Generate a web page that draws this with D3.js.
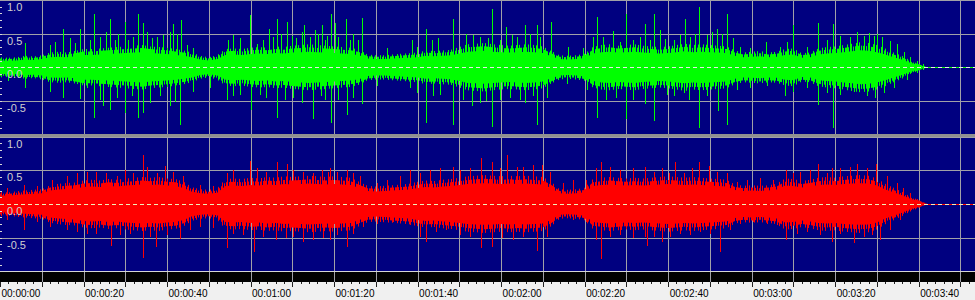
<!DOCTYPE html>
<html>
<head>
<meta charset="utf-8">
<script src="https://cdn.jsdelivr.net/npm/d3@7"></script>
<style>
body { margin: 0; background: #f0f0f0; }
svg { display: block; }
</style>
</head>
<body>
<svg></svg>
<script>
var width = 975
var height = 300

// envelope of each channel (outer edge of the dense part), one value every 2 seconds (0..222 s)
var envStep = 2
var greenEnv = [0.15,0.14,0.15,0.17,0.16,0.18,0.22,0.23,0.22,0.24,
    0.27,0.27,0.28,0.29,0.30,0.31,0.32,0.33,0.31,0.30,
    0.29,0.27,0.25,0.22,0.17,0.15,0.18,0.27,0.28,0.27,
    0.29,0.30,0.29,0.31,0.30,0.32,0.33,0.34,0.33,0.32,
    0.31,0.30,0.29,0.26,0.19,0.18,0.18,0.19,0.20,0.21,
    0.22,0.25,0.24,0.25,0.26,0.30,0.34,0.35,0.36,0.34,
    0.33,0.32,0.33,0.34,0.33,0.31,0.24,0.18,0.17,0.18,
    0.20,0.30,0.33,0.34,0.32,0.33,0.34,0.32,0.31,0.30,
    0.31,0.33,0.35,0.33,0.34,0.33,0.32,0.31,0.25,0.22,
    0.23,0.24,0.22,0.23,0.27,0.28,0.21,0.22,0.28,0.30,
    0.31,0.33,0.35,0.37,0.36,0.33,0.28,0.22,0.17,0.10,
    0.05,0.00]
var redEnv = [0.18,0.17,0.19,0.20,0.21,0.22,0.28,0.30,0.31,0.32,
    0.35,0.36,0.35,0.37,0.36,0.38,0.39,0.40,0.39,0.40,
    0.38,0.37,0.33,0.25,0.22,0.21,0.23,0.37,0.38,0.37,
    0.39,0.38,0.40,0.39,0.41,0.40,0.41,0.42,0.41,0.40,
    0.41,0.40,0.39,0.33,0.27,0.26,0.27,0.28,0.29,0.30,
    0.33,0.35,0.34,0.36,0.37,0.39,0.41,0.42,0.43,0.42,
    0.41,0.42,0.41,0.42,0.41,0.40,0.33,0.22,0.21,0.22,
    0.24,0.37,0.39,0.40,0.39,0.38,0.39,0.38,0.39,0.40,
    0.41,0.40,0.39,0.40,0.39,0.38,0.37,0.36,0.29,0.27,
    0.28,0.27,0.28,0.30,0.38,0.37,0.34,0.36,0.39,0.40,
    0.39,0.41,0.42,0.43,0.42,0.38,0.30,0.24,0.18,0.11,
    0.06,0.00]

// peaks sticking out of the envelope: [seconds, amplitude]
var greenUp = [[6,0.36],[12,0.33],[13.2,0.38],[15.2,0.57],[16.8,0.43],[18,0.36],[19.2,0.57],[21.5,0.40],[22.6,0.79],[24,0.45],
    [25.5,0.52],[26.3,0.71],[27.5,0.40],[28.3,0.50],[29.9,0.67],[30.7,0.40],[31.9,0.45],[33,0.79],[34.2,0.65],[35.1,0.52],
    [36.3,0.43],[37.5,0.45],[39.1,0.48],[40.7,0.52],[41.5,0.64],[42.3,0.50],[43.3,0.70],[44.7,0.33],[46.3,0.28],[54.7,0.40],
    [55.9,0.48],[57.5,0.43],[59.9,0.77],[61.5,0.35],[63,0.40],[64.5,0.57],[65.4,0.45],[66.4,0.71],[67.4,0.50],[68.8,0.67],
    [70,0.46],[71,0.43],[72.2,0.52],[72.8,0.62],[74.2,0.45],[75.4,0.55],[76.2,0.50],[77,0.62],[77.8,0.40],[78.3,0.46],
    [79.2,0.79],[80.2,0.65],[81,0.45],[82.8,0.71],[83.8,0.40],[84.6,0.50],[85.8,0.41],[86.6,0.73],[92.6,0.28],[98.6,0.40],
    [99.8,0.30],[102,0.57],[103.5,0.40],[105,0.43],[108.5,0.72],[111.7,0.50],[113.3,0.48],[114.9,0.45],[116.9,0.43],[117.9,0.87],
    [119.7,0.40],[121.1,0.60],[122.5,0.48],[123.7,0.45],[125.7,0.62],[126.9,0.50],[128.6,0.62],[129.3,0.45],[131.9,0.67],[136,0.30],
    [139.7,0.28],[142,0.45],[143,0.75],[144.4,0.45],[146.7,0.54],[148.4,0.38],[149.9,0.79],[151.6,0.40],[153.2,0.45],[154.4,0.64],
    [155.7,0.40],[156.7,0.79],[158.1,0.55],[159.3,0.42],[161.3,0.40],[162.9,0.48],[164.1,0.72],[165.3,0.45],[166.5,0.50],[167.5,0.89],
    [169.3,0.48],[170.5,0.52],[171.6,0.57],[172.9,0.50],[174.2,0.79],[175.5,0.43],[177.2,0.30],[179.6,0.28],[183.4,0.38],[186.8,0.30],
    [188.4,0.38],[189.9,0.62],[193.2,0.30],[196,0.65],[198,0.40],[199.4,0.64],[201.2,0.47],[203.6,0.45],[205.2,0.52],[206.8,0.47],
    [208,0.51],[209.2,0.47],[210,0.49],[211.2,0.45],[213.2,0.39],[214.9,0.35],[216.4,0.23],[217.9,0.16],[219.5,0.10],[221,0.05]]
var greenDown = [[2,-0.21],[6,-0.31],[12,-0.36],[15.2,-0.46],[19.2,-0.47],[20.8,-0.31],[22.6,-0.75],[23.9,-0.48],[24.6,-0.58],[26.3,-0.63],
    [27.9,-0.45],[29.9,-0.68],[31.5,-0.43],[33.1,-0.75],[34.3,-0.68],[35.9,-0.53],[38.3,-0.43],[40.7,-0.58],[41.9,-0.51],[43.1,-0.86],
    [46.3,-0.36],[50.3,-0.31],[54.3,-0.48],[55.9,-0.43],[57.5,-0.41],[60,-0.63],[62.2,-0.41],[63.8,-0.46],[66.4,-0.75],[68.2,-0.48],
    [70.2,-0.46],[72.2,-0.53],[75,-0.76],[76.8,-0.43],[77.8,-0.48],[79.2,-0.82],[81,-0.48],[83,-0.70],[84.6,-0.46],[86.6,-0.54],
    [90.2,-0.28],[98.2,-0.31],[99.8,-0.38],[102,-0.82],[103.7,-0.43],[105.3,-0.41],[108.5,-0.85],[110.9,-0.48],[113,-0.58],[114.9,-0.53],
    [116.5,-0.50],[117.9,-0.89],[119.7,-0.48],[122.1,-0.46],[124.5,-0.48],[125.7,-0.53],[127.7,-0.43],[128.6,-0.86],[130.9,-0.46],[135.7,-0.24],
    [140.5,-0.33],[143,-0.75],[145.2,-0.48],[147.6,-0.46],[149.9,-0.77],[151.6,-0.48],[154.4,-0.55],[156.7,-0.80],[159.7,-0.41],[161.3,-0.43],
    [163.7,-0.38],[165.1,-0.48],[167.5,-0.90],[169.3,-0.43],[171.9,-0.65],[174.2,-0.86],[176.4,-0.33],[179.6,-0.31],[183.6,-0.28],[188,-0.43],
    [190,-0.36],[193.2,-0.31],[196,-0.56],[198,-0.38],[199.4,-0.90],[201.2,-0.41],[204.4,-0.36],[207.6,-0.43],[209.6,-0.46],[211.6,-0.38],
    [214,-0.31],[217.2,-0.19],[219.5,-0.09],[221,-0.04]]
var redUp = [[1.6,0.23],[5.7,0.28],[8.8,0.26],[12.4,0.36],[16,0.41],[18.4,0.46],[20.8,0.48],[23.1,0.48],[25.5,0.46],[27.9,0.41],
    [29.9,0.50],[31.9,0.46],[34.2,0.73],[35.1,0.55],[37.5,0.46],[39.5,0.56],[41.5,0.48],[43.9,0.41],[47.9,0.28],[51.1,0.26],
    [54.3,0.46],[55.9,0.50],[59.9,0.64],[61.5,0.53],[63.8,0.48],[66.4,0.62],[68.8,0.60],[70.2,0.50],[72.6,0.48],[75,0.46],
    [77,0.50],[78.6,0.48],[79,0.53],[80.6,0.48],[83,0.50],[84.6,0.46],[86.2,0.41],[90.2,0.31],[92.6,0.36],[95.8,0.41],
    [98.1,0.50],[100.5,0.46],[102.9,0.50],[105.3,0.53],[108.5,0.55],[110.1,0.50],[112.5,0.53],[115.3,0.68],[117.9,0.62],[119.7,0.53],
    [121.3,0.72],[123.7,0.55],[125.3,0.55],[127.7,0.58],[129.7,0.58],[131.7,0.48],[134.9,0.31],[137.3,0.36],[140.4,0.36],[142.8,0.53],
    [144,0.63],[146,0.55],[148.4,0.50],[151.6,0.53],[154.4,0.55],[156.5,0.48],[158.5,0.53],[160.1,0.46],[161.7,0.63],[163.7,0.46],
    [165.7,0.53],[167.5,0.63],[169.7,0.56],[171.7,0.48],[174.1,0.46],[176.4,0.33],[178.8,0.36],[182,0.38],[185.2,0.36],[188.2,0.50],
    [190,0.46],[191.6,0.48],[194,0.50],[196,0.60],[198,0.46],[199.2,0.53],[201.2,0.53],[203.6,0.55],[205.3,0.59],[207.6,0.53],
    [209.8,0.60],[212.4,0.41],[214.8,0.31],[216.3,0.23],[217.9,0.16],[219.5,0.08]]
var redDown = [[1.6,-0.24],[5.7,-0.39],[8.8,-0.26],[12,-0.34],[16,-0.39],[18.4,-0.41],[20.8,-0.44],[23.1,-0.44],[26.7,-0.63],[28.7,-0.46],
    [31.1,-0.44],[34.2,-0.80],[35.9,-0.49],[37.4,-0.64],[39.9,-0.46],[43.1,-0.52],[45.5,-0.39],[47.9,-0.34],[51.1,-0.36],[54.3,-0.66],
    [55.9,-0.44],[58.3,-0.46],[60.8,-0.71],[63,-0.49],[66.1,-0.53],[68.6,-0.51],[70.2,-0.49],[72.6,-0.56],[75,-0.53],[77.4,-0.51],
    [79,-0.53],[80.6,-0.46],[83,-0.64],[84.6,-0.44],[87,-0.34],[90.2,-0.29],[94.2,-0.26],[98.1,-0.31],[100.5,-0.49],[102.1,-0.56],
    [104.5,-0.41],[106.9,-0.39],[110.1,-0.46],[112.5,-0.49],[115.3,-0.66],[117.9,-0.64],[120.1,-0.51],[122.9,-0.53],[125.3,-0.49],[128.6,-0.69],
    [130.9,-0.49],[133.3,-0.21],[137.3,-0.24],[140.4,-0.26],[142.8,-0.53],[144,-0.81],[146,-0.49],[148.4,-0.46],[151.6,-0.51],[154.4,-0.49],
    [154.9,-0.63],[156.5,-0.49],[158.5,-0.56],[160.5,-0.49],[162.9,-0.44],[165.3,-0.46],[167.7,-0.41],[170.1,-0.44],[172.5,-0.71],[174.8,-0.39],
    [177.2,-0.29],[180.4,-0.26],[183.6,-0.29],[186,-0.31],[188.2,-0.53],[190.8,-0.44],[193.2,-0.41],[196.4,-0.46],[199.2,-0.56],[201.2,-0.44],
    [204.4,-0.58],[206.8,-0.49],[208.8,-0.46],[210.8,-0.53],[213.2,-0.39],[215.6,-0.24],[218,-0.09],[219.5,-0.04]]

var ampTicks = [1.0, 0.5, 0.0, -0.5]
var ampLabels = ["1.0", "0.5", "0.0", "-0.5"]
var timeTicks = [0, 20, 40, 60, 80, 100, 120, 140, 160, 180, 200, 220]
var timeLabels = ["00:00:00","00:00:20","00:00:40","00:01:00","00:01:20","00:01:40",
    "00:02:00","00:02:20","00:02:40","00:03:00","00:03:20","00:03:40"]

var x = d3.scaleLinear().domain([0, 220]).range([0, 918.7])
var yTop = d3.scaleLinear().domain([-1, 1]).range([134.8, -0.2])
var yBot = d3.scaleLinear().domain([-1, 1]).range([271.4, 136.6])
var endT = 222
var gridColor = "#a0a0a8"

const svg = d3.select("svg")
    .attr("width", width)
    .attr("height", height)
    .attr("viewBox", [0, 0, width, height])
    .style("font-family", "'Liberation Sans', Arial, sans-serif")

svg.append("rect").attr("width", width).attr("height", height).attr("fill", "#f0f0f0")

// stripe patterns give the ragged edge of the waveform body
const defs = svg.append("defs")
function stripes(id, color, period, bars) {
    const p = defs.append("pattern")
        .attr("id", id)
        .attr("patternUnits", "userSpaceOnUse")
        .attr("width", period).attr("height", 300)
    bars.forEach(b => p.append("rect")
        .attr("x", b[0]).attr("y", 0)
        .attr("width", b[1]).attr("height", 300)
        .attr("fill", color))
}
stripes("gDense", "#00ff00", 13, [[0, 2], [3, 1], [5, 2], [8, 1], [10, 2]])
stripes("gSparse", "#00ff00", 17, [[1, 1], [6, 1], [9, 1], [14, 1]])
stripes("rDense", "#ff0000", 13, [[0, 2], [3, 1], [5, 2], [8, 1], [10, 2]])
stripes("rSparse", "#ff0000", 17, [[1, 1], [6, 1], [9, 1], [14, 1]])

function channel(y, top, bottom, env, up, down, color, dense, sparse, core, dashColor) {
    const g = svg.append("g")
    g.append("rect")
        .attr("x", 0).attr("y", top)
        .attr("width", width).attr("height", bottom - top)
        .attr("fill", "#000080")

    // grid
    const grid = g.append("g").attr("stroke", gridColor).attr("shape-rendering", "crispEdges")
    grid.selectAll("line.v")
        .data(d3.range(10, 240, 10))
        .enter().append("line")
        .attr("x1", d => Math.round(x(d)) + 0.5).attr("x2", d => Math.round(x(d)) + 0.5)
        .attr("y1", top).attr("y2", bottom)
    grid.selectAll("line.h")
        .data([1, 0.5, -0.5])
        .enter().append("line")
        .attr("x1", 0).attr("x2", width)
        .attr("y1", d => Math.round(y(d)) + 0.5).attr("y2", d => Math.round(y(d)) + 0.5)

    // waveform body: sparse fringe, denser fringe, solid core
    const area = k => d3.area()
        .x((d, i) => x(i * envStep))
        .y0(d => y(-d * k))
        .y1(d => y(d * k))
    g.append("path").datum(env).attr("fill", "url(#" + sparse + ")").attr("d", area(1))
    g.append("path").datum(env).attr("fill", "url(#" + dense + ")").attr("d", area(0.87))
    g.append("path").datum(env).attr("fill", color).attr("d", area(core))

    g.append("g")
        .attr("stroke", color)
        .attr("stroke-width", 1)
        .attr("shape-rendering", "crispEdges")
        .selectAll("line")
        .data(up.concat(down))
        .enter().append("line")
        .attr("x1", d => Math.round(x(d[0])) + 0.5)
        .attr("x2", d => Math.round(x(d[0])) + 0.5)
        .attr("y1", y(0))
        .attr("y2", d => y(d[1]))

    // flat tail after the end of the sound
    g.append("line")
        .attr("x1", x(endT)).attr("x2", width)
        .attr("y1", Math.round(y(0)) + 0.5).attr("y2", Math.round(y(0)) + 0.5)
        .attr("stroke", color)
        .attr("shape-rendering", "crispEdges")

    // centre line
    g.append("line")
        .attr("x1", 0).attr("x2", width)
        .attr("y1", Math.round(y(0)) + 0.5).attr("y2", Math.round(y(0)) + 0.5)
        .attr("stroke", dashColor)
        .attr("stroke-dasharray", "4,3")
        .attr("shape-rendering", "crispEdges")

    // amplitude scale on the left
    g.append("g")
        .attr("stroke", "#d8d8d8")
        .attr("shape-rendering", "crispEdges")
        .selectAll("line")
        .data(d3.range(-9, 10))
        .enter().append("line")
        .attr("x1", 0).attr("x2", 2)
        .attr("y1", d => Math.round(y(d / 10)) + 0.5)
        .attr("y2", d => Math.round(y(d / 10)) + 0.5)
    g.selectAll("text")
        .data(ampTicks)
        .enter().append("text")
        .attr("x", 7)
        .attr("y", d => y(d) + 11)
        .attr("fill", "#d0d0d0")
        .style("font-size", "11px")
        .text((d, i) => ampLabels[i])
}

channel(yTop, 0, 134, greenEnv, greenUp, greenDown, "#00ff00", "gDense", "gSparse", 0.68, "#e8e8e8")
channel(yBot, 137, 271, redEnv, redUp, redDown, "#ff0000", "rDense", "rSparse", 0.72, "#f0f0b8")

// separator between channels
svg.append("rect").attr("x", 0).attr("y", 134).attr("width", width).attr("height", 3).attr("fill", "#909090")
svg.append("rect").attr("x", 0).attr("y", 271).attr("width", width).attr("height", 1).attr("fill", "#d4d4d4")

// time ruler
svg.append("rect").attr("x", 0).attr("y", 272).attr("width", width).attr("height", 10).attr("fill", "#000000")
svg.append("g")
    .attr("stroke", gridColor)
    .attr("shape-rendering", "crispEdges")
    .selectAll("line")
    .data(d3.range(10, 240, 10))
    .enter().append("line")
    .attr("x1", d => Math.round(x(d)) + 0.5).attr("x2", d => Math.round(x(d)) + 0.5)
    .attr("y1", 272).attr("y2", 282)

svg.append("g")
    .attr("stroke", "#202020")
    .attr("shape-rendering", "crispEdges")
    .selectAll("line")
    .data(d3.range(0, 234, 2))
    .enter().append("line")
    .attr("x1", d => Math.round(x(d)) + 0.5).attr("x2", d => Math.round(x(d)) + 0.5)
    .attr("y1", 282)
    .attr("y2", d => d % 10 === 0 ? 287 : 284)

svg.append("g")
    .selectAll("text")
    .data(timeTicks)
    .enter().append("text")
    .attr("x", d => x(d) + 1.5)
    .attr("y", 297)
    .attr("fill", "#000000")
    .style("font-size", "10px")
    .text((d, i) => timeLabels[i])
</script>
</body>
</html>
